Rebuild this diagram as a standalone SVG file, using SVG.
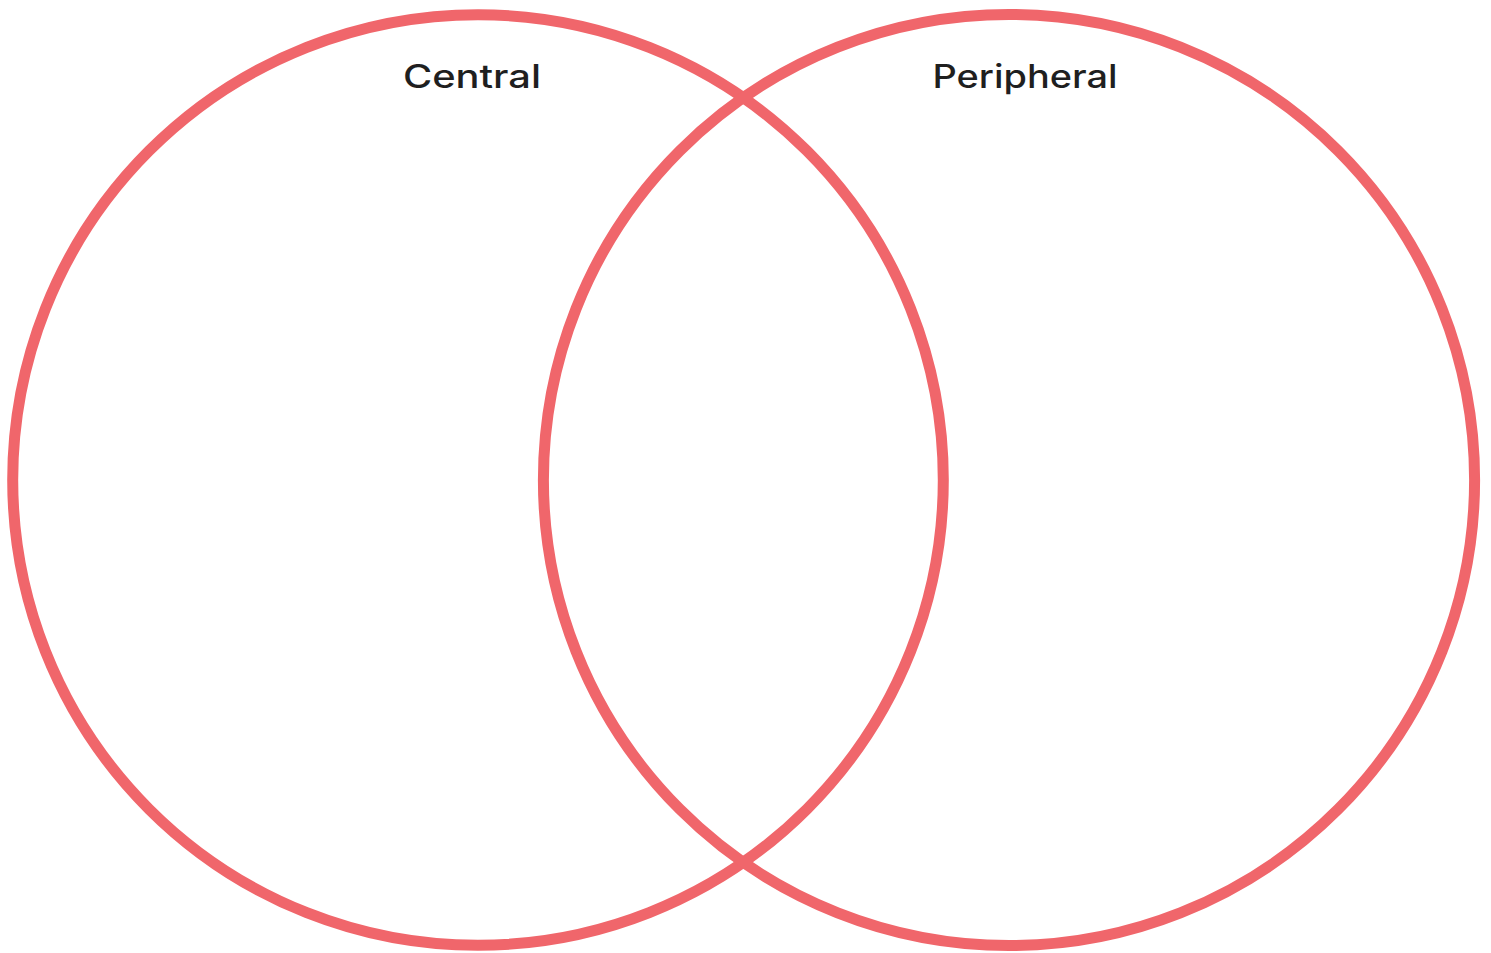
<svg xmlns="http://www.w3.org/2000/svg" width="1491" height="953" viewBox="0 0 1491 953">
<style>
.ring{fill:none;stroke:#F0666B;stroke-width:11}
.lbl{font-family:Inter,"Liberation Sans",sans-serif;font-size:32px;font-weight:500;fill:#1f1f1f;text-anchor:middle}
</style>
<rect width="1491" height="953" fill="#ffffff"/>
<g id="central">
<circle class="ring" cx="478" cy="480" r="465.3"/>
<text class="lbl" x="472" y="88" textLength="138" lengthAdjust="spacingAndGlyphs">Central</text>
</g>
<g id="peripheral">
<circle class="ring" cx="1009" cy="480" r="465.6"/>
<text class="lbl" x="1025" y="88" textLength="185" lengthAdjust="spacingAndGlyphs">Peripheral</text>
</g>
<g id="connectors"/>
</svg>
